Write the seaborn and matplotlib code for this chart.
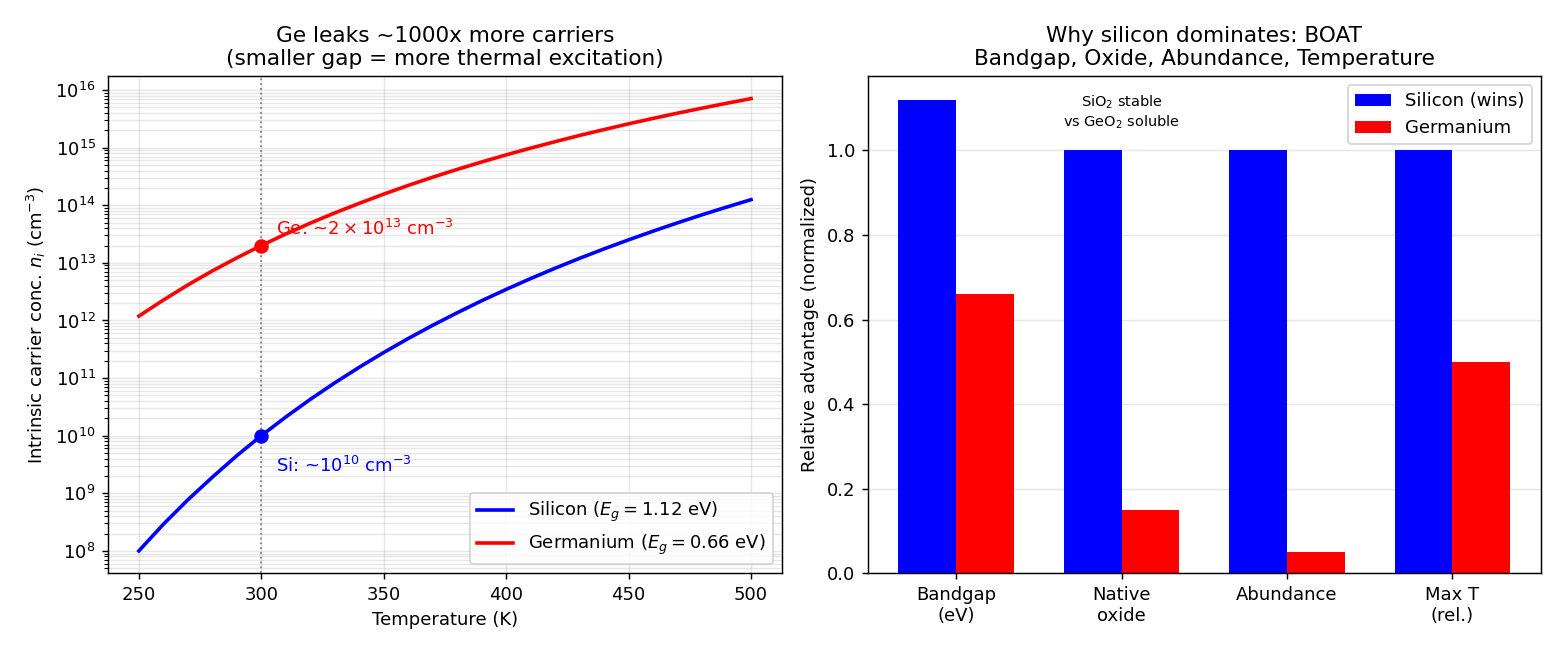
#%% LIB
import matplotlib
matplotlib.use("Agg")
import matplotlib.pyplot as plt
import pandas as pd
import seaborn as sns

#%% DATA
# ---------------------------------------------------
# Intrinsic carrier concentration
# ---------------------------------------------------
temps = [250, 260, 270, 280, 290, 300, 310, 320, 330, 340, 350, 360, 370,
         380, 390, 400, 410, 420, 430, 440, 450, 460, 470, 480, 490, 500]
ni_si = [1.0e8, 2.9e8, 7.7e8, 1.9e9, 4.5e9, 1.0e10, 2.11e10, 4.27e10,
         8.27e10, 1.54e11, 2.78e11, 4.86e11, 8.25e11, 1.36e12, 2.2e12,
         3.46e12, 5.34e12, 8.08e12, 1.2e13, 1.75e13, 2.51e13, 3.55e13,
         4.96e13, 6.83e13, 9.28e13, 1.25e14]
ni_ge = [1.19e12, 2.26e12, 4.14e12, 7.25e12, 1.22e13, 2.0e13, 3.17e13,
         4.89e13, 7.36e13, 1.08e14, 1.56e14, 2.21e14, 3.07e14, 4.19e14,
         5.64e14, 7.49e14, 9.82e14, 1.27e15, 1.63e15, 2.06e15, 2.59e15,
         3.22e15, 3.97e15, 4.85e15, 5.89e15, 7.1e15]
room_temp = 300

# ---------------------------------------------------
# BOAT comparison
# ---------------------------------------------------
categories = ["Bandgap\n(eV)", "Native\noxide", "Abundance", "Max T\n(rel.)"]
si_scores = [1.12, 1.0, 1.0, 1.0]
ge_scores = [0.66, 0.15, 0.05, 0.5]

df_ni = pd.DataFrame({"T": temps, "Si": ni_si, "Ge": ni_ge})
df_bar = pd.DataFrame({
    "category": categories * 2,
    "score": si_scores + ge_scores,
    "material": ["Silicon (wins)"] * 4 + ["Germanium"] * 4,
})

#%% PLOT
fig, (ax1, ax2) = plt.subplots(1, 2, figsize=(12, 5), dpi=130)
fig.subplots_adjust(left=0.0694, right=0.9878, bottom=0.1177, top=0.8831,
                    wspace=0.1276)

# ---------------------------------------------------
# Left: n_i vs temperature
# ---------------------------------------------------
sns.lineplot(data=df_ni, x="T", y="Si", color="blue", linewidth=2,
             label="Silicon ($E_g = 1.12$ eV)", ax=ax1)
sns.lineplot(data=df_ni, x="T", y="Ge", color="red", linewidth=2,
             label="Germanium ($E_g = 0.66$ eV)", ax=ax1)
ax1.set_yscale("log")
ax1.axvline(room_temp, color="gray", linestyle=":", linewidth=1)

rt = df_ni[df_ni["T"] == room_temp].iloc[0]
ax1.plot(rt["T"], rt["Si"], "o", color="blue", markersize=7)
ax1.plot(rt["T"], rt["Ge"], "o", color="red", markersize=7)
ax1.annotate(r"Si: ~$10^{10}$ cm$^{-3}$", (rt["T"], rt["Si"]),
             xytext=(8, -20), textcoords="offset points",
             color="blue", fontsize=10)
ax1.annotate(r"Ge: ~$2\times10^{13}$ cm$^{-3}$", (rt["T"], rt["Ge"]),
             xytext=(8, 6), textcoords="offset points",
             color="red", fontsize=10)

ax1.grid(True, which="both", alpha=0.3)
ax1.set_xlabel("Temperature (K)")
ax1.set_ylabel(r"Intrinsic carrier conc. $n_i$ (cm$^{-3}$)")
ax1.set_title("Ge leaks ~1000x more carriers\n(smaller gap = more thermal excitation)")
ax1.legend(loc="lower right")

# ---------------------------------------------------
# Right: bar comparison
# ---------------------------------------------------
sns.barplot(data=df_bar, x="category", y="score", hue="material",
            palette={"Silicon (wins)": "blue", "Germanium": "red"},
            saturation=1, width=0.7, ax=ax2)
ax2.set_xlim(-0.535, 3.535)
ax2.set_xlabel("")
ax2.set_ylabel("Relative advantage (normalized)")
ax2.set_title("Why silicon dominates: BOAT\nBandgap, Oxide, Abundance, Temperature")
ax2.grid(True, axis="y", alpha=0.3)
ax2.set_axisbelow(True)
ax2.text(1, 1.09, "SiO$_2$ stable\nvs GeO$_2$ soluble", ha="center",
         va="center", fontsize=8)
ax2.legend(loc="upper right", title=None)

plt.savefig("out.png")
